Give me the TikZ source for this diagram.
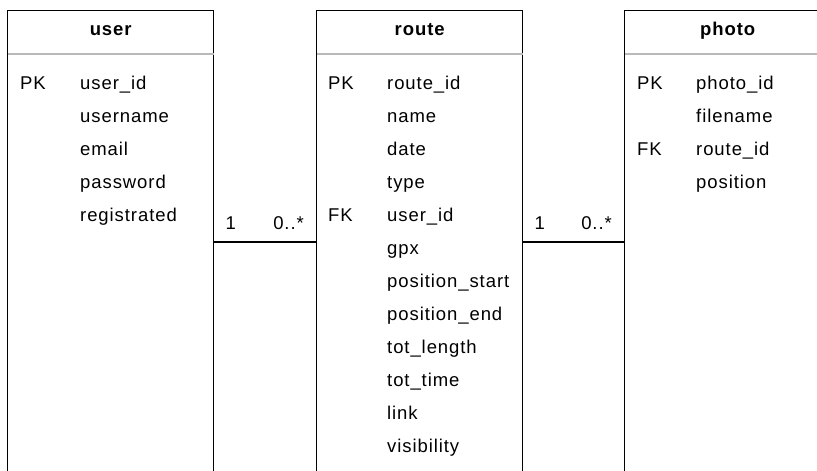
\documentclass[tikz,border=0pt]{standalone}
\usepackage{fontspec}
\setmainfont[LetterSpace=5]{Liberation Sans}
\usetikzlibrary{positioning,calc}

\begin{document}
\begin{tikzpicture}[x=1pt,y=-1pt,
  table/.style={draw,line width=1.4pt,anchor=north west,minimum width=206pt,minimum height=500pt,inner sep=0pt},
  title/.style={anchor=base,inner sep=0pt,font=\fontsize{18.5}{20}\selectfont\bfseries},
  field/.style={anchor=base west,inner sep=0pt,font=\fontsize{18.5}{20}\selectfont},
  mult/.style={inner sep=0pt,font=\fontsize{18.5}{20}\selectfont}]
    \clip (0,0) rectangle (817,471);
    \node[table] (user) at (7,10) {};
    \node[table] (route) at (316,10) {};
    \node[table] (photo) at (624,10) {};
    \foreach \t in {user,route,photo} {
        \node[title] at ($(\t.north)+(0,25)$) {\t};
        \draw[gray!55,line width=1.6pt] ($(\t.north west)+(0.7,44)$) -- ($(\t.north east)+(-0.7,44)$);
    }
    \foreach \k/\f [count=\i from 0] in {PK/user\_id,/username,/email,/password,/registrated}
        \node[field] at ($(user.north west)+(13,79+33*\i)$) {\k}
            node[field] at ($(user.north west)+(73,79+33*\i)$) {\f};
    \foreach \k/\f [count=\i from 0] in {PK/route\_id,/name,/date,/type,FK/user\_id,/gpx,/position\_start,/position\_end,/tot\_length,/tot\_time,/link,/visibility}
        \node[field] at ($(route.north west)+(12,79+33*\i)$) {\k}
            node[field] at ($(route.north west)+(71,79+33*\i)$) {\f};
    \foreach \k/\f [count=\i from 0] in {PK/photo\_id,/filename,FK/route\_id,/position}
        \node[field] at ($(photo.north west)+(13,79+33*\i)$) {\k}
            node[field] at ($(photo.north west)+(72,79+33*\i)$) {\f};
    \draw[line width=1.4pt] ($(user.north east)+(0,232)$) -- ($(route.north west)+(0,232)$);
    \node[mult,anchor=base west] at ($(user.north east)+(11,219)$) {1};
    \node[mult,anchor=base east] at ($(route.north west)+(-12,219)$) {0..*};
    \draw[line width=1.4pt] ($(route.north east)+(0,232)$) -- ($(photo.north west)+(0,232)$);
    \node[mult,anchor=base west] at ($(route.north east)+(11,219)$) {1};
    \node[mult,anchor=base east] at ($(photo.north west)+(-12,219)$) {0..*};
\end{tikzpicture}
\end{document}
